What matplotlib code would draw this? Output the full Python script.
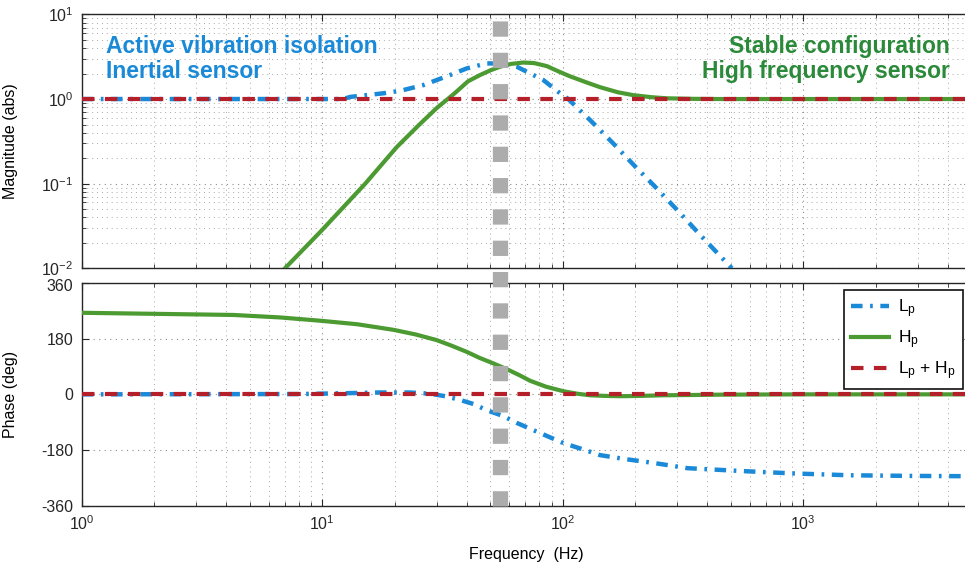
import numpy as np
import matplotlib
matplotlib.use('Agg')
import matplotlib.pyplot as plt
from matplotlib.lines import Line2D
from matplotlib.transforms import blended_transform_factory, ScaledTranslation
from matplotlib.ticker import LogLocator, NullFormatter, FixedLocator

plt.rcParams['font.family'] = ['Liberation Sans', 'DejaVu Sans']
plt.rcParams['mathtext.fontset'] = 'custom'
plt.rcParams['mathtext.rm'] = 'Liberation Sans'
plt.rcParams['mathtext.it'] = 'Liberation Sans'
plt.rcParams['axes.unicode_minus'] = False

# low-pass filter L_p (inertial sensor side)
lp_mag_f = [1.0, 12.2, 13.1, 18.0, 21.1, 26.3, 34.0, 39.9, 48.3, 56.0, 64.4,
            83.0, 97.5, 105.5, 132, 162, 200, 246, 303, 372, 458, 505]
lp_mag = [1.0, 1.0, 1.06, 1.17, 1.25, 1.46, 1.92, 2.30, 2.64, 2.62, 2.41,
          1.68, 1.17, 1.0, 0.54, 0.30, 0.16, 0.088, 0.047, 0.025, 0.0134, 0.010]
lp_ph_f = [1.0, 8.1, 13.1, 17.4, 23.2, 28.1, 31.9, 36.7, 42.5, 48.3, 56.6,
           64.4, 75.3, 100.6, 130, 143, 179, 238, 330, 546, 910, 1567, 2870, 5000]
lp_ph = [0, 1, 4, 6, 6, 2, -5, -16, -31, -51, -70, -92, -115, -157, -185,
         -196, -208, -221, -238, -247, -255, -261, -263, -264]

# high-pass filter H_p (high frequency sensor side)
hp_mag_f = [7.0, 9.95, 15.1, 20.4, 25.0, 29.9, 35.3, 40.4, 45.3, 50.0, 54.9,
            61.0, 68.6, 76.0, 85.9, 95.0, 107, 125, 143, 170, 197, 235, 271,
            350, 452, 1000, 5000]
hp_mag = [0.010, 0.028, 0.10, 0.27, 0.48, 0.78, 1.15, 1.62, 1.92, 2.18, 2.41,
          2.60, 2.70, 2.66, 2.45, 2.15, 1.86, 1.58, 1.38, 1.20, 1.11, 1.05, 1.02,
          1.005, 1.0, 1.0, 1.0]
hp_ph_f = [1.0, 4.27, 6.68, 9.95, 14.0, 19.8, 24.5, 29.9, 34.5, 39.9, 45.0,
           51.4, 59.0, 66.0, 73.1, 85.0, 100.7, 115, 130, 150, 173, 210, 262,
           350, 452, 1000, 5000]
hp_ph = [263, 256, 248, 237, 226, 208, 193, 175, 157, 137, 118, 100, 80, 62,
         44, 25, 10, 2, -3, -5, -6, -5, -3, -2, -1, 0, 0]

# sum of both filters
sum_f = [1.0, 5000]
sum_mag = [1.0, 1.0]
sum_ph = [0, 0]

f_blend = 55.0

c_blue = '#1a8ad8'
c_green = '#4c9a32'
c_green_txt = '#2b8a3a'
c_red = '#b41f2a'
c_gray = '#acacac'

fig = plt.figure(figsize=(9.65, 5.73), dpi=100)
W, H = 965.0, 573.0
left = 81.7 / W
width = np.log10(5000) * 240.5 / W
ax1 = fig.add_axes([left, 1 - 268.3 / H, width, (268.3 - 14.4) / H])
ax2 = fig.add_axes([left, 1 - 506 / H, width, (506 - 282.7) / H], sharex=ax1)

dashdot = (0, (2.6, 1.7, 0.6, 1.7))
dashed = (0, (3.0, 2.5))

ax1.plot(lp_mag_f, lp_mag, color=c_blue, lw=3.2, ls=dashdot, zorder=3)
ax1.plot(hp_mag_f, hp_mag, color=c_green, lw=3.0, zorder=3)
ax1.plot(sum_f, sum_mag, color=c_red, lw=3.0, ls=dashed, zorder=4)

ax2.plot(lp_ph_f, lp_ph, color=c_blue, lw=3.2, ls=dashdot, zorder=3,
         label=r'$\mathregular{L_p}$')
ax2.plot(hp_ph_f, hp_ph, color=c_green, lw=3.0, zorder=3,
         label=r'$\mathregular{H_p}$')
ax2.plot(sum_f, sum_ph, color=c_red, lw=3.0, ls=dashed, zorder=4,
         label=r'$\mathregular{L_p}$ + $\mathregular{H_p}$')

ax1.set_xscale('log')
ax1.set_yscale('log')
ax1.set_xlim(1, 5000)
ax1.set_ylim(1e-2, 1e1)
ax2.set_ylim(-360, 360)
ax2.yaxis.set_major_locator(FixedLocator([-360, -180, 0, 180, 360]))

ax1.yaxis.set_major_locator(LogLocator(base=10, numticks=10))
ax1.yaxis.set_minor_locator(LogLocator(base=10, subs=np.arange(2, 10), numticks=20))
ax1.yaxis.set_minor_formatter(NullFormatter())
ax2.xaxis.set_minor_locator(LogLocator(base=10, subs=np.arange(2, 10), numticks=20))
ax2.xaxis.set_minor_formatter(NullFormatter())
plt.setp(ax1.get_xticklabels(), visible=False)

for ax in (ax1, ax2):
    ax.grid(True, which='major', ls=(0, (1, 4)), color='#8c8c8c', lw=0.8)
    ax.grid(True, which='minor', ls=(0, (1, 4)), color='#a8a8a8', lw=0.7)
    ax.tick_params(which='both', direction='in', top=True, right=True,
                   labelsize=11.5, colors='#262626', pad=6)
    ax.tick_params(which='major', length=5)
    ax.tick_params(which='minor', length=3)
    for s in ax.spines.values():
        s.set_color('#262626')
        s.set_linewidth(1.0)
ax2.yaxis.set_minor_locator(FixedLocator([]))

# keep the lowest magnitude label and the top phase label apart
fig.canvas.draw()
ax1.get_yticklabels()[0].set_transform(
    ax1.get_yticklabels()[0].get_transform()
    + ScaledTranslation(0, 3 / 72, fig.dpi_scale_trans))
ax2.get_yticklabels()[-1].set_transform(
    ax2.get_yticklabels()[-1].get_transform()
    + ScaledTranslation(0, -2 / 72, fig.dpi_scale_trans))

ax1.set_ylabel('Magnitude (abs)', fontsize=11.5)
ax2.set_ylabel('Phase (deg)', fontsize=11.5)
ax2.set_xlabel('Frequency  (Hz)', fontsize=11.5, labelpad=10)
label_x = (18 - 81.7) / (width * W)
ax1.yaxis.set_label_coords(label_x, 0.5)
ax2.yaxis.set_label_coords(label_x, 0.5)

# blending frequency marker running through both plots
trans = blended_transform_factory(ax1.transData, fig.transFigure)
marker = Line2D([f_blend, f_blend], [1 - 506 / H, 1 - 14.4 / H], transform=trans,
                color=c_gray, lw=11, ls=(0, (1.0, 1.05)), zorder=5)
fig.add_artist(marker)

ax1.text(0.027, 0.92, 'Active vibration isolation\nInertial sensor',
         transform=ax1.transAxes, color=c_blue, fontsize=16.5,
         fontweight='bold', ha='left', va='top', linespacing=1.15)
ax1.text((949.5 - 81.7) / (width * W), 0.92,
         'Stable configuration\nHigh frequency sensor',
         transform=ax1.transAxes, color=c_green_txt, fontsize=16.5,
         fontweight='bold', ha='right', va='top', linespacing=1.15,
         multialignment='right')

leg = ax2.legend(loc='upper right', bbox_to_anchor=(962.7 / W, 1 - 290 / H),
                 bbox_transform=fig.transFigure, fontsize=12.5,
                 handlelength=2.2, handletextpad=0.5, borderaxespad=0,
                 fancybox=False, framealpha=1, edgecolor='#111111',
                 borderpad=0.4, labelspacing=0.5)
leg.get_frame().set_linewidth(1.2)

fig.savefig('out.png', dpi=100)
